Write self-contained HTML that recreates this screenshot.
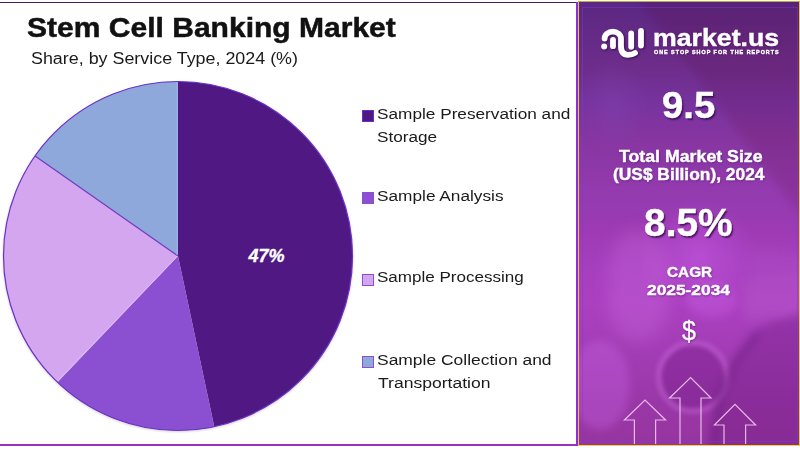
<!DOCTYPE html>
<html>
<head>
<meta charset="utf-8">
<style>
html,body{margin:0;padding:0;}
body{width:800px;height:450px;position:relative;overflow:hidden;background:#fff;font-family:"Liberation Sans",Arial,sans-serif;}
.abs{position:absolute;white-space:nowrap;line-height:1;transform-origin:0 0;}
#topline{position:absolute;left:0;top:2px;width:577px;height:1px;background:#4d1d60;}
#botline{position:absolute;left:0;top:444px;width:577px;height:2px;background:#9a2fc2;}
#rline{position:absolute;left:576px;top:2px;width:2px;height:444px;background:#8a30d4;}
.tl{font-weight:bold;color:#111;-webkit-text-stroke:0.5px #111;}
.sb{color:#1a1a1a;}
.lg{color:#1a1a1a;}
.wb{font-weight:bold;color:#fff;text-shadow:0.5px 1px 2px rgba(60,10,90,0.55);-webkit-text-stroke:0.4px #fff;}
.wr{color:#fff;text-shadow:0.5px 1px 2px rgba(60,10,90,0.6);-webkit-text-stroke:0.3px #fff;}
.sq{position:absolute;width:12px;height:12px;box-sizing:border-box;}
#right{position:absolute;left:578px;top:1px;width:222px;height:445px;overflow:hidden;
background:linear-gradient(180deg,#55237a 0%,#6b2a85 15%,#75309a 23%,#85339c 30%,#9438ac 42%,#9e3bb4 52%,#a63fbe 60%,#ab40c0 68%,#a23cb4 80%,#9a37a8 90%,#96359f 100%);}
#right .b{position:absolute;}
#rborder{position:absolute;left:578px;top:1px;width:222px;height:445px;box-sizing:border-box;border:1.5px solid #e8c82a;border-top-color:#c4a63c;border-bottom-color:#fcd51a;}
.wb.shadow{text-shadow:1.5px 1.5px 1.5px rgba(45,8,70,0.75);}
</style>
</head>
<body>
<div id="topline"></div>
<div id="botline"></div>
<div id="rline"></div>

<div class="abs tl" style="left:27.12px;top:13.6px;font-size:28px;transform:scaleX(1.0725);">Stem Cell Banking Market</div>
<div class="abs sb" style="left:31.44px;top:50.6px;font-size:16px;transform:scaleX(1.1173);">Share, by Service Type, 2024 (%)</div>

<svg class="abs" style="left:0;top:0" width="578" height="450" viewBox="0 0 578 450">
  <g style="filter:drop-shadow(0.5px 1px 1px rgba(60,40,60,0.22))">
  <path d="M178,256 L178,81.5 A174.5,174.5 0 0 1 214.28,426.69 Z" fill="#4f1882"/>
  <path d="M178,256 L214.28,426.69 A174.5,174.5 0 0 1 57.44,382.16 Z" fill="#8b4fd1"/>
  <path d="M178,256 L57.44,382.16 A174.5,174.5 0 0 1 35.06,155.91 Z" fill="#d4a6ef"/>
  <path d="M178,256 L35.06,155.91 A174.5,174.5 0 0 1 178,81.5 Z" fill="#8fa8db"/>
  <line x1="178" y1="256" x2="35.06" y2="155.91" stroke="#6e3cc0" stroke-width="1.2"/>
  <line x1="177.5" y1="256" x2="56.9" y2="381.6" stroke="#e2bcf8" stroke-width="0.9"/>
  <line x1="177.2" y1="82" x2="177.2" y2="255" stroke="#a4b6ee" stroke-width="0.9"/>
  <circle cx="178" cy="256" r="174.5" fill="none" stroke="#6a32c8" stroke-width="1.2"/>
  </g>
  <text x="266.5" y="262" font-family="Liberation Sans" font-weight="bold" font-style="italic" font-size="18" fill="#fff" stroke="#fff" stroke-width="0.35" text-anchor="middle">47%</text>
</svg>

<div class="sq" style="left:362px;top:110px;background:#4f1882;border:1px solid #6a32c8"></div>
<div class="sq" style="left:362px;top:192px;background:#8b4fd1"></div>
<div class="sq" style="left:362px;top:273.5px;background:#d4a6ef;border:1.5px solid #8b4fd1"></div>
<div class="sq" style="left:362px;top:356px;background:#8fa8db;border:1.5px solid #8b4fd1"></div>
<div class="abs lg" style="left:377.33px;top:106.2px;font-size:15.5px;transform:scaleX(1.1105);">Sample Preservation and</div>
<div class="abs lg" style="left:377.13px;top:128.7px;font-size:15.5px;transform:scaleX(1.1082);">Storage</div>
<div class="abs lg" style="left:376.93px;top:187.7px;font-size:15.5px;transform:scaleX(1.1125);">Sample Analysis</div>
<div class="abs lg" style="left:376.95px;top:269.4px;font-size:15.5px;transform:scaleX(1.0993);">Sample Processing</div>
<div class="abs lg" style="left:377.31px;top:351.5px;font-size:15.5px;transform:scaleX(1.1255);">Sample Collection and</div>
<div class="abs lg" style="left:378.43px;top:375.0px;font-size:15.5px;transform:scaleX(1.1327);">Transportation</div>


<div id="right">
  <div class="b" style="left:60px;top:200px;width:120px;height:110px;border-radius:50%;background:radial-gradient(closest-side,rgba(200,90,230,0.55),rgba(200,90,230,0));"></div>
  <div class="b" style="left:0;top:60px;width:70px;height:90px;background:radial-gradient(closest-side,rgba(130,70,180,0.35),rgba(130,70,180,0));"></div>
  <div class="b" style="left:30px;top:230px;width:60px;height:110px;border-radius:40%;background:rgba(215,120,235,0.25);filter:blur(8px);"></div>
  <div class="b" style="left:78px;top:339px;width:74px;height:74px;border-radius:50%;border:6px solid rgba(215,120,230,0.35);box-sizing:border-box;filter:blur(2px);"></div>
  <div class="b" style="left:84px;top:345px;width:62px;height:62px;border-radius:50%;background:rgba(120,30,140,0.45);filter:blur(2px);"></div>
  <div class="b" style="left:170px;top:250px;width:60px;height:70px;background:rgba(220,140,230,0.08);filter:blur(6px);transform:rotate(8deg);"></div>
  <svg class="b" style="left:-30px;top:-30px;filter:blur(4px)" width="282" height="505" viewBox="548 -29 282 505">
    <path d="M805,312 L770,322 L752,334 L732,362 L716,400 L708,450 L805,450 Z" fill="rgba(105,25,125,0.33)"/>
    <path d="M758,332 L736,360 L720,398 L712,446" fill="none" stroke="rgba(95,20,115,0.35)" stroke-width="7"/>
    <rect x="742" y="276" width="60" height="42" fill="rgba(225,150,240,0.06)" transform="rotate(-6 770 296)"/>
    <ellipse cx="600" cy="385" rx="30" ry="45" fill="rgba(200,100,230,0.35)"/>
    <path d="M632,-10 L810,-10 L810,215 L800,215 Z" fill="rgba(105,30,100,0.22)"/>
    <path d="M560,-10 L632,-10 L800,215 L560,215 Z" fill="rgba(140,80,200,0.10)"/>
    <ellipse cx="712" cy="300" rx="25" ry="18" fill="rgba(205,100,235,0.3)"/>
  </svg>
  <div class="b" style="left:4px;top:5.5px;width:216px;height:435px;border:1px solid rgba(110,60,230,0.45);box-sizing:border-box;"></div>
</div>
<div id="rborder"></div>
<svg class="abs" style="left:0;top:0" width="800" height="450" viewBox="0 0 800 450">
  <g style="filter:drop-shadow(1px 1.5px 1px rgba(40,0,60,0.7))">
  <g fill="none" stroke="#fff" stroke-width="5.8" stroke-linecap="round">
    <path d="M604.6,38.6 A8.2,7 0 0 1 621,38.6 L621,46 Q621,54.8 628,54.8 Q632.5,54.8 635,53"/>
    <line x1="613" y1="39.8" x2="613" y2="46.2"/>
    <line x1="631.2" y1="33.5" x2="631.2" y2="46.8"/>
    <line x1="641" y1="31" x2="641" y2="45.5"/>
  </g>
  <circle cx="604.2" cy="46.5" r="3" fill="#fff"/>
  </g>
  <g fill="none" stroke="#f0c8f0" stroke-width="1.2" opacity="0.9">
    <path d="M634.4,444 L634.4,420 L624.4,420 L645,400 L665.6,420 L655.6,420 L655.6,444"/>
    <path d="M680,444 L680,398 L669.6,398 L690.6,377.6 L711,398 L701,398 L701,444"/>
    <path d="M724,444 L724,425 L714.4,425 L735,404.4 L755.6,425 L745.6,425 L745.6,444"/>
  </g>
</svg>
<div class="abs wb" style="left:652.87px;top:27.3px;font-size:23px;transform:scaleX(1.1604);">market.us</div>
<div class="abs wb" style="left:653.7px;top:50.3px;font-size:5.5px;transform:scaleX(0.9811);letter-spacing:1.0px;">ONE STOP SHOP FOR THE REPORTS</div>
<div class="abs wb shadow" style="left:662.16px;top:86.9px;font-size:37px;transform:scaleX(1.0372);">9.5</div>
<div class="abs wb" style="left:618.6px;top:148.7px;font-size:16px;transform:scaleX(1.1085);">Total Market Size</div>
<div class="abs wb" style="left:612.91px;top:167.1px;font-size:16px;transform:scaleX(1.0849);">(US$ Billion), 2024</div>
<div class="abs wb shadow" style="left:644.38px;top:203.7px;font-size:38px;transform:scaleX(1.0235);">8.5%</div>
<div class="abs wb" style="left:666.89px;top:264.0px;font-size:15px;transform:scaleX(1.0237);">CAGR</div>
<div class="abs wb" style="left:646.6px;top:282.0px;font-size:15.5px;transform:scaleX(1.119);">2025-2034</div>
<div class="abs wr" style="left:681.61px;top:317.4px;font-size:28px;transform:scaleX(0.8962);">$</div>

</body>
</html>
